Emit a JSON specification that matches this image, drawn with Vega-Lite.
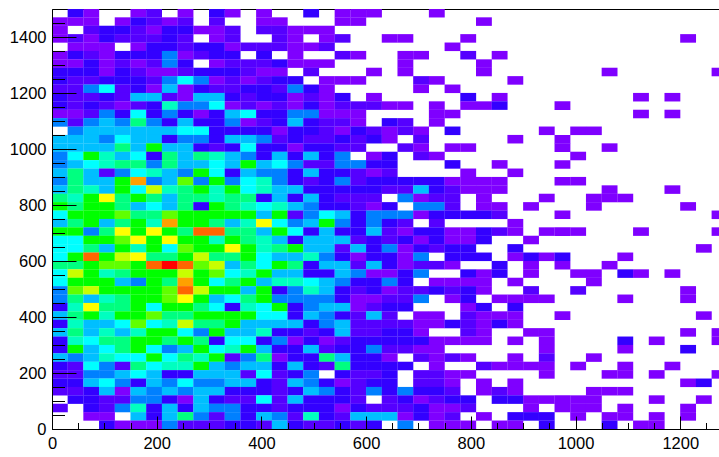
{"$schema":"https://vega.github.io/schema/vega-lite/v6.json","width":667,"height":420,"autosize":"none","padding":{"left":52,"top":9,"right":0,"bottom":28},"background":"white","config":{"view":{"stroke":"black","strokeWidth":1},"axis":{"grid":false,"domainColor":"black","tickColor":"black","tickWidth":1,"labelColor":"black","labelFont":"Liberation Sans","labelFontSize":16.5,"title":null,"labelOverlap":false,"labelBound":false,"labelFlush":false,"format":"d"}},"data":{"values":[
{"x":45,"y":1485,"v":3},{"x":75,"y":1485,"v":1},{"x":165,"y":1485,"v":1},{"x":195,"y":1485,"v":2},{"x":255,"y":1485,"v":1},{"x":315,"y":1485,"v":3},{"x":345,"y":1485,"v":1},{"x":405,"y":1485,"v":1},{"x":495,"y":1485,"v":3},{"x":555,"y":1485,"v":1},{"x":585,"y":1485,"v":1},{"x":615,"y":1485,"v":1},{"x":735,"y":1485,"v":1},
{"x":15,"y":1455,"v":1},{"x":45,"y":1455,"v":1},{"x":75,"y":1455,"v":1},{"x":135,"y":1455,"v":1},{"x":165,"y":1455,"v":3},{"x":195,"y":1455,"v":2},{"x":225,"y":1455,"v":1},{"x":255,"y":1455,"v":2},{"x":315,"y":1455,"v":2},{"x":405,"y":1455,"v":1},{"x":435,"y":1455,"v":1},{"x":555,"y":1455,"v":1},{"x":585,"y":1455,"v":1},{"x":825,"y":1455,"v":1},
{"x":15,"y":1425,"v":1},{"x":75,"y":1425,"v":2},{"x":105,"y":1425,"v":3},{"x":135,"y":1425,"v":3},{"x":165,"y":1425,"v":2},{"x":195,"y":1425,"v":1},{"x":225,"y":1425,"v":3},{"x":255,"y":1425,"v":3},{"x":285,"y":1425,"v":1},{"x":315,"y":1425,"v":1},{"x":345,"y":1425,"v":2},{"x":405,"y":1425,"v":2},{"x":435,"y":1425,"v":2},{"x":465,"y":1425,"v":1},{"x":495,"y":1425,"v":1},{"x":525,"y":1425,"v":1},
{"x":15,"y":1395,"v":1},{"x":45,"y":1395,"v":2},{"x":75,"y":1395,"v":1},{"x":105,"y":1395,"v":3},{"x":135,"y":1395,"v":2},{"x":165,"y":1395,"v":2},{"x":195,"y":1395,"v":2},{"x":225,"y":1395,"v":3},{"x":255,"y":1395,"v":2},{"x":315,"y":1395,"v":1},{"x":345,"y":1395,"v":2},{"x":435,"y":1395,"v":2},{"x":465,"y":1395,"v":1},{"x":525,"y":1395,"v":1},{"x":555,"y":1395,"v":2},{"x":645,"y":1395,"v":1},{"x":675,"y":1395,"v":1},{"x":795,"y":1395,"v":1},{"x":1215,"y":1395,"v":1},
{"x":45,"y":1365,"v":1},{"x":75,"y":1365,"v":1},{"x":105,"y":1365,"v":1},{"x":165,"y":1365,"v":1},{"x":195,"y":1365,"v":3},{"x":225,"y":1365,"v":3},{"x":255,"y":1365,"v":2},{"x":285,"y":1365,"v":3},{"x":315,"y":1365,"v":3},{"x":345,"y":1365,"v":1},{"x":375,"y":1365,"v":2},{"x":405,"y":1365,"v":2},{"x":435,"y":1365,"v":2},{"x":465,"y":1365,"v":1},{"x":495,"y":1365,"v":1},{"x":525,"y":1365,"v":2},{"x":765,"y":1365,"v":1},
{"x":15,"y":1335,"v":1},{"x":45,"y":1335,"v":3},{"x":75,"y":1335,"v":2},{"x":105,"y":1335,"v":1},{"x":135,"y":1335,"v":3},{"x":165,"y":1335,"v":3},{"x":195,"y":1335,"v":3},{"x":225,"y":1335,"v":5},{"x":255,"y":1335,"v":1},{"x":285,"y":1335,"v":2},{"x":315,"y":1335,"v":3},{"x":345,"y":1335,"v":3},{"x":405,"y":1335,"v":3},{"x":465,"y":1335,"v":1},{"x":555,"y":1335,"v":2},{"x":585,"y":1335,"v":1},{"x":675,"y":1335,"v":1},{"x":705,"y":1335,"v":1},{"x":795,"y":1335,"v":2},{"x":855,"y":1335,"v":1},
{"x":15,"y":1305,"v":1},{"x":45,"y":1305,"v":1},{"x":75,"y":1305,"v":3},{"x":105,"y":1305,"v":1},{"x":135,"y":1305,"v":2},{"x":165,"y":1305,"v":1},{"x":195,"y":1305,"v":2},{"x":225,"y":1305,"v":5},{"x":255,"y":1305,"v":3},{"x":315,"y":1305,"v":1},{"x":345,"y":1305,"v":2},{"x":375,"y":1305,"v":2},{"x":405,"y":1305,"v":2},{"x":435,"y":1305,"v":3},{"x":465,"y":1305,"v":1},{"x":495,"y":1305,"v":1},{"x":525,"y":1305,"v":1},{"x":675,"y":1305,"v":1},{"x":825,"y":1305,"v":1},
{"x":15,"y":1275,"v":3},{"x":45,"y":1275,"v":3},{"x":75,"y":1275,"v":3},{"x":105,"y":1275,"v":1},{"x":135,"y":1275,"v":3},{"x":165,"y":1275,"v":2},{"x":195,"y":1275,"v":1},{"x":225,"y":1275,"v":1},{"x":255,"y":1275,"v":2},{"x":285,"y":1275,"v":3},{"x":315,"y":1275,"v":3},{"x":345,"y":1275,"v":3},{"x":375,"y":1275,"v":2},{"x":405,"y":1275,"v":1},{"x":435,"y":1275,"v":1},{"x":495,"y":1275,"v":2},{"x":615,"y":1275,"v":1},{"x":675,"y":1275,"v":1},{"x":825,"y":1275,"v":1},{"x":1065,"y":1275,"v":1},{"x":1275,"y":1275,"v":1},
{"x":15,"y":1245,"v":3},{"x":45,"y":1245,"v":2},{"x":75,"y":1245,"v":2},{"x":105,"y":1245,"v":3},{"x":135,"y":1245,"v":3},{"x":165,"y":1245,"v":3},{"x":195,"y":1245,"v":2},{"x":225,"y":1245,"v":5},{"x":255,"y":1245,"v":7},{"x":285,"y":1245,"v":5},{"x":315,"y":1245,"v":1},{"x":345,"y":1245,"v":2},{"x":375,"y":1245,"v":1},{"x":405,"y":1245,"v":2},{"x":435,"y":1245,"v":3},{"x":465,"y":1245,"v":3},{"x":525,"y":1245,"v":1},{"x":555,"y":1245,"v":1},{"x":585,"y":1245,"v":1},{"x":705,"y":1245,"v":2},{"x":735,"y":1245,"v":1},{"x":885,"y":1245,"v":1},
{"x":15,"y":1215,"v":2},{"x":45,"y":1215,"v":2},{"x":75,"y":1215,"v":5},{"x":105,"y":1215,"v":7},{"x":135,"y":1215,"v":2},{"x":165,"y":1215,"v":3},{"x":195,"y":1215,"v":1},{"x":225,"y":1215,"v":6},{"x":255,"y":1215,"v":1},{"x":285,"y":1215,"v":3},{"x":315,"y":1215,"v":2},{"x":345,"y":1215,"v":2},{"x":375,"y":1215,"v":3},{"x":405,"y":1215,"v":3},{"x":435,"y":1215,"v":2},{"x":465,"y":1215,"v":5},{"x":495,"y":1215,"v":3},{"x":525,"y":1215,"v":1},{"x":705,"y":1215,"v":1},{"x":765,"y":1215,"v":1},
{"x":15,"y":1185,"v":3},{"x":45,"y":1185,"v":2},{"x":75,"y":1185,"v":2},{"x":105,"y":1185,"v":3},{"x":135,"y":1185,"v":2},{"x":165,"y":1185,"v":6},{"x":195,"y":1185,"v":6},{"x":225,"y":1185,"v":2},{"x":255,"y":1185,"v":1},{"x":285,"y":1185,"v":6},{"x":315,"y":1185,"v":6},{"x":345,"y":1185,"v":3},{"x":375,"y":1185,"v":2},{"x":405,"y":1185,"v":3},{"x":435,"y":1185,"v":3},{"x":465,"y":1185,"v":1},{"x":495,"y":1185,"v":2},{"x":525,"y":1185,"v":1},{"x":555,"y":1185,"v":3},{"x":615,"y":1185,"v":1},{"x":795,"y":1185,"v":3},{"x":855,"y":1185,"v":1},{"x":1125,"y":1185,"v":1},{"x":1185,"y":1185,"v":1},
{"x":15,"y":1155,"v":3},{"x":45,"y":1155,"v":2},{"x":75,"y":1155,"v":3},{"x":105,"y":1155,"v":2},{"x":135,"y":1155,"v":1},{"x":165,"y":1155,"v":2},{"x":195,"y":1155,"v":3},{"x":225,"y":1155,"v":8},{"x":255,"y":1155,"v":5},{"x":285,"y":1155,"v":5},{"x":315,"y":1155,"v":7},{"x":345,"y":1155,"v":1},{"x":375,"y":1155,"v":2},{"x":405,"y":1155,"v":1},{"x":435,"y":1155,"v":2},{"x":465,"y":1155,"v":1},{"x":495,"y":1155,"v":3},{"x":525,"y":1155,"v":1},{"x":555,"y":1155,"v":2},{"x":585,"y":1155,"v":2},{"x":615,"y":1155,"v":2},{"x":645,"y":1155,"v":1},{"x":675,"y":1155,"v":1},{"x":735,"y":1155,"v":1},{"x":795,"y":1155,"v":1},{"x":825,"y":1155,"v":1},{"x":855,"y":1155,"v":3},{"x":975,"y":1155,"v":1},
{"x":15,"y":1125,"v":1},{"x":45,"y":1125,"v":1},{"x":75,"y":1125,"v":2},{"x":105,"y":1125,"v":5},{"x":135,"y":1125,"v":3},{"x":165,"y":1125,"v":7},{"x":195,"y":1125,"v":3},{"x":225,"y":1125,"v":5},{"x":255,"y":1125,"v":3},{"x":285,"y":1125,"v":1},{"x":315,"y":1125,"v":3},{"x":345,"y":1125,"v":6},{"x":375,"y":1125,"v":7},{"x":405,"y":1125,"v":3},{"x":435,"y":1125,"v":3},{"x":465,"y":1125,"v":5},{"x":495,"y":1125,"v":5},{"x":525,"y":1125,"v":1},{"x":555,"y":1125,"v":1},{"x":585,"y":1125,"v":1},{"x":735,"y":1125,"v":1},{"x":765,"y":1125,"v":1},{"x":1125,"y":1125,"v":1},{"x":1185,"y":1125,"v":1},
{"x":15,"y":1095,"v":5},{"x":45,"y":1095,"v":2},{"x":75,"y":1095,"v":5},{"x":105,"y":1095,"v":6},{"x":135,"y":1095,"v":5},{"x":165,"y":1095,"v":9},{"x":195,"y":1095,"v":5},{"x":225,"y":1095,"v":3},{"x":255,"y":1095,"v":6},{"x":285,"y":1095,"v":3},{"x":315,"y":1095,"v":3},{"x":345,"y":1095,"v":5},{"x":375,"y":1095,"v":1},{"x":405,"y":1095,"v":2},{"x":435,"y":1095,"v":3},{"x":465,"y":1095,"v":6},{"x":495,"y":1095,"v":3},{"x":525,"y":1095,"v":2},{"x":555,"y":1095,"v":2},{"x":585,"y":1095,"v":1},{"x":645,"y":1095,"v":3},{"x":675,"y":1095,"v":2},{"x":735,"y":1095,"v":1},
{"x":45,"y":1065,"v":5},{"x":75,"y":1065,"v":6},{"x":105,"y":1065,"v":6},{"x":135,"y":1065,"v":6},{"x":165,"y":1065,"v":6},{"x":195,"y":1065,"v":6},{"x":225,"y":1065,"v":6},{"x":255,"y":1065,"v":7},{"x":285,"y":1065,"v":7},{"x":315,"y":1065,"v":3},{"x":345,"y":1065,"v":3},{"x":375,"y":1065,"v":3},{"x":405,"y":1065,"v":3},{"x":435,"y":1065,"v":1},{"x":465,"y":1065,"v":3},{"x":495,"y":1065,"v":3},{"x":525,"y":1065,"v":2},{"x":555,"y":1065,"v":1},{"x":585,"y":1065,"v":3},{"x":615,"y":1065,"v":2},{"x":645,"y":1065,"v":1},{"x":675,"y":1065,"v":2},{"x":705,"y":1065,"v":1},{"x":765,"y":1065,"v":3},{"x":945,"y":1065,"v":1},{"x":1005,"y":1065,"v":1},{"x":1035,"y":1065,"v":1},
{"x":15,"y":1035,"v":6},{"x":45,"y":1035,"v":6},{"x":75,"y":1035,"v":6},{"x":105,"y":1035,"v":5},{"x":135,"y":1035,"v":7},{"x":165,"y":1035,"v":6},{"x":195,"y":1035,"v":6},{"x":225,"y":1035,"v":3},{"x":255,"y":1035,"v":5},{"x":285,"y":1035,"v":5},{"x":315,"y":1035,"v":3},{"x":345,"y":1035,"v":6},{"x":375,"y":1035,"v":6},{"x":405,"y":1035,"v":5},{"x":435,"y":1035,"v":2},{"x":465,"y":1035,"v":3},{"x":495,"y":1035,"v":2},{"x":525,"y":1035,"v":2},{"x":555,"y":1035,"v":3},{"x":585,"y":1035,"v":2},{"x":615,"y":1035,"v":3},{"x":645,"y":1035,"v":1},{"x":705,"y":1035,"v":2},{"x":885,"y":1035,"v":1},{"x":975,"y":1035,"v":1},
{"x":15,"y":1005,"v":6},{"x":45,"y":1005,"v":6},{"x":75,"y":1005,"v":6},{"x":105,"y":1005,"v":6},{"x":135,"y":1005,"v":9},{"x":165,"y":1005,"v":6},{"x":195,"y":1005,"v":10},{"x":225,"y":1005,"v":6},{"x":255,"y":1005,"v":6},{"x":285,"y":1005,"v":3},{"x":315,"y":1005,"v":2},{"x":345,"y":1005,"v":3},{"x":375,"y":1005,"v":7},{"x":405,"y":1005,"v":3},{"x":435,"y":1005,"v":3},{"x":465,"y":1005,"v":1},{"x":495,"y":1005,"v":3},{"x":525,"y":1005,"v":3},{"x":555,"y":1005,"v":2},{"x":585,"y":1005,"v":2},{"x":675,"y":1005,"v":2},{"x":705,"y":1005,"v":1},{"x":765,"y":1005,"v":1},{"x":795,"y":1005,"v":1},{"x":975,"y":1005,"v":1},{"x":1065,"y":1005,"v":1},
{"x":15,"y":975,"v":5},{"x":45,"y":975,"v":7},{"x":75,"y":975,"v":10},{"x":105,"y":975,"v":8},{"x":135,"y":975,"v":6},{"x":165,"y":975,"v":7},{"x":195,"y":975,"v":3},{"x":225,"y":975,"v":9},{"x":255,"y":975,"v":6},{"x":285,"y":975,"v":9},{"x":315,"y":975,"v":8},{"x":345,"y":975,"v":6},{"x":375,"y":975,"v":5},{"x":405,"y":975,"v":3},{"x":435,"y":975,"v":6},{"x":465,"y":975,"v":3},{"x":495,"y":975,"v":6},{"x":525,"y":975,"v":3},{"x":555,"y":975,"v":5},{"x":615,"y":975,"v":1},{"x":645,"y":975,"v":3},{"x":705,"y":975,"v":2},{"x":735,"y":975,"v":1},{"x":1005,"y":975,"v":1},
{"x":15,"y":945,"v":5},{"x":45,"y":945,"v":6},{"x":75,"y":945,"v":7},{"x":105,"y":945,"v":8},{"x":135,"y":945,"v":9},{"x":165,"y":945,"v":9},{"x":195,"y":945,"v":5},{"x":225,"y":945,"v":9},{"x":255,"y":945,"v":6},{"x":285,"y":945,"v":6},{"x":315,"y":945,"v":7},{"x":345,"y":945,"v":6},{"x":375,"y":945,"v":10},{"x":405,"y":945,"v":6},{"x":435,"y":945,"v":7},{"x":465,"y":945,"v":5},{"x":495,"y":945,"v":2},{"x":525,"y":945,"v":2},{"x":555,"y":945,"v":5},{"x":585,"y":945,"v":5},{"x":615,"y":945,"v":3},{"x":645,"y":945,"v":3},{"x":765,"y":945,"v":3},{"x":855,"y":945,"v":1},{"x":975,"y":945,"v":1},
{"x":15,"y":915,"v":6},{"x":45,"y":915,"v":9},{"x":75,"y":915,"v":6},{"x":105,"y":915,"v":2},{"x":135,"y":915,"v":5},{"x":165,"y":915,"v":7},{"x":195,"y":915,"v":8},{"x":225,"y":915,"v":6},{"x":255,"y":915,"v":5},{"x":285,"y":915,"v":10},{"x":315,"y":915,"v":7},{"x":345,"y":915,"v":3},{"x":375,"y":915,"v":6},{"x":405,"y":915,"v":5},{"x":435,"y":915,"v":5},{"x":465,"y":915,"v":3},{"x":495,"y":915,"v":6},{"x":525,"y":915,"v":3},{"x":555,"y":915,"v":3},{"x":585,"y":915,"v":2},{"x":615,"y":915,"v":1},{"x":645,"y":915,"v":2},{"x":795,"y":915,"v":1},{"x":885,"y":915,"v":1},
{"x":15,"y":885,"v":5},{"x":45,"y":885,"v":9},{"x":75,"y":885,"v":6},{"x":105,"y":885,"v":6},{"x":135,"y":885,"v":10},{"x":165,"y":885,"v":14},{"x":195,"y":885,"v":5},{"x":225,"y":885,"v":6},{"x":255,"y":885,"v":11},{"x":285,"y":885,"v":5},{"x":315,"y":885,"v":10},{"x":345,"y":885,"v":5},{"x":375,"y":885,"v":7},{"x":405,"y":885,"v":8},{"x":435,"y":885,"v":5},{"x":465,"y":885,"v":3},{"x":495,"y":885,"v":2},{"x":525,"y":885,"v":3},{"x":555,"y":885,"v":5},{"x":585,"y":885,"v":2},{"x":615,"y":885,"v":3},{"x":645,"y":885,"v":3},{"x":675,"y":885,"v":3},{"x":705,"y":885,"v":3},{"x":735,"y":885,"v":3},{"x":765,"y":885,"v":1},{"x":795,"y":885,"v":1},{"x":825,"y":885,"v":1},{"x":855,"y":885,"v":1},{"x":975,"y":885,"v":1},{"x":1005,"y":885,"v":1},
{"x":15,"y":855,"v":6},{"x":45,"y":855,"v":9},{"x":75,"y":855,"v":8},{"x":105,"y":855,"v":6},{"x":135,"y":855,"v":10},{"x":165,"y":855,"v":7},{"x":195,"y":855,"v":12},{"x":225,"y":855,"v":8},{"x":255,"y":855,"v":9},{"x":285,"y":855,"v":10},{"x":315,"y":855,"v":8},{"x":345,"y":855,"v":10},{"x":375,"y":855,"v":7},{"x":405,"y":855,"v":8},{"x":435,"y":855,"v":6},{"x":465,"y":855,"v":6},{"x":495,"y":855,"v":3},{"x":525,"y":855,"v":3},{"x":555,"y":855,"v":3},{"x":585,"y":855,"v":3},{"x":615,"y":855,"v":3},{"x":645,"y":855,"v":2},{"x":675,"y":855,"v":2},{"x":705,"y":855,"v":6},{"x":735,"y":855,"v":3},{"x":765,"y":855,"v":2},{"x":795,"y":855,"v":1},{"x":825,"y":855,"v":1},{"x":855,"y":855,"v":1},{"x":1065,"y":855,"v":1},{"x":1185,"y":855,"v":1},
{"x":15,"y":825,"v":9},{"x":45,"y":825,"v":8},{"x":75,"y":825,"v":10},{"x":105,"y":825,"v":13},{"x":135,"y":825,"v":9},{"x":165,"y":825,"v":10},{"x":195,"y":825,"v":9},{"x":225,"y":825,"v":6},{"x":255,"y":825,"v":9},{"x":285,"y":825,"v":9},{"x":315,"y":825,"v":8},{"x":345,"y":825,"v":9},{"x":375,"y":825,"v":9},{"x":405,"y":825,"v":3},{"x":435,"y":825,"v":6},{"x":465,"y":825,"v":3},{"x":495,"y":825,"v":6},{"x":525,"y":825,"v":3},{"x":555,"y":825,"v":2},{"x":585,"y":825,"v":2},{"x":615,"y":825,"v":2},{"x":675,"y":825,"v":5},{"x":705,"y":825,"v":1},{"x":735,"y":825,"v":2},{"x":765,"y":825,"v":2},{"x":825,"y":825,"v":1},{"x":945,"y":825,"v":1},{"x":1035,"y":825,"v":1},{"x":1065,"y":825,"v":1},{"x":1095,"y":825,"v":1},
{"x":15,"y":795,"v":10},{"x":45,"y":795,"v":9},{"x":75,"y":795,"v":10},{"x":105,"y":795,"v":10},{"x":135,"y":795,"v":9},{"x":165,"y":795,"v":6},{"x":195,"y":795,"v":7},{"x":225,"y":795,"v":6},{"x":255,"y":795,"v":9},{"x":285,"y":795,"v":3},{"x":315,"y":795,"v":10},{"x":345,"y":795,"v":9},{"x":375,"y":795,"v":8},{"x":405,"y":795,"v":7},{"x":435,"y":795,"v":8},{"x":465,"y":795,"v":6},{"x":495,"y":795,"v":5},{"x":525,"y":795,"v":3},{"x":555,"y":795,"v":3},{"x":585,"y":795,"v":2},{"x":615,"y":795,"v":1},{"x":645,"y":795,"v":3},{"x":705,"y":795,"v":5},{"x":735,"y":795,"v":5},{"x":765,"y":795,"v":2},{"x":825,"y":795,"v":1},{"x":855,"y":795,"v":1},{"x":915,"y":795,"v":1},{"x":1035,"y":795,"v":1},{"x":1215,"y":795,"v":1},
{"x":15,"y":765,"v":7},{"x":45,"y":765,"v":10},{"x":75,"y":765,"v":10},{"x":105,"y":765,"v":10},{"x":135,"y":765,"v":11},{"x":165,"y":765,"v":9},{"x":195,"y":765,"v":9},{"x":225,"y":765,"v":11},{"x":255,"y":765,"v":10},{"x":285,"y":765,"v":10},{"x":315,"y":765,"v":10},{"x":345,"y":765,"v":10},{"x":375,"y":765,"v":10},{"x":405,"y":765,"v":6},{"x":435,"y":765,"v":10},{"x":465,"y":765,"v":2},{"x":495,"y":765,"v":5},{"x":525,"y":765,"v":7},{"x":555,"y":765,"v":6},{"x":585,"y":765,"v":3},{"x":615,"y":765,"v":5},{"x":645,"y":765,"v":5},{"x":675,"y":765,"v":5},{"x":705,"y":765,"v":1},{"x":735,"y":765,"v":3},{"x":765,"y":765,"v":3},{"x":795,"y":765,"v":3},{"x":825,"y":765,"v":3},{"x":855,"y":765,"v":2},{"x":975,"y":765,"v":1},{"x":1275,"y":765,"v":1},
{"x":15,"y":735,"v":6},{"x":45,"y":735,"v":9},{"x":75,"y":735,"v":10},{"x":105,"y":735,"v":6},{"x":135,"y":735,"v":9},{"x":165,"y":735,"v":10},{"x":195,"y":735,"v":8},{"x":225,"y":735,"v":14},{"x":255,"y":735,"v":10},{"x":285,"y":735,"v":10},{"x":315,"y":735,"v":9},{"x":345,"y":735,"v":6},{"x":375,"y":735,"v":8},{"x":405,"y":735,"v":13},{"x":435,"y":735,"v":7},{"x":465,"y":735,"v":5},{"x":495,"y":735,"v":6},{"x":525,"y":735,"v":10},{"x":555,"y":735,"v":5},{"x":585,"y":735,"v":3},{"x":615,"y":735,"v":5},{"x":645,"y":735,"v":3},{"x":675,"y":735,"v":2},{"x":735,"y":735,"v":2},{"x":885,"y":735,"v":1},
{"x":15,"y":705,"v":10},{"x":45,"y":705,"v":10},{"x":75,"y":705,"v":5},{"x":105,"y":705,"v":9},{"x":135,"y":705,"v":13},{"x":165,"y":705,"v":10},{"x":195,"y":705,"v":13},{"x":225,"y":705,"v":10},{"x":255,"y":705,"v":9},{"x":285,"y":705,"v":15},{"x":315,"y":705,"v":15},{"x":345,"y":705,"v":9},{"x":375,"y":705,"v":9},{"x":405,"y":705,"v":6},{"x":435,"y":705,"v":10},{"x":465,"y":705,"v":7},{"x":495,"y":705,"v":3},{"x":525,"y":705,"v":6},{"x":555,"y":705,"v":3},{"x":585,"y":705,"v":3},{"x":615,"y":705,"v":6},{"x":645,"y":705,"v":2},{"x":675,"y":705,"v":1},{"x":705,"y":705,"v":3},{"x":735,"y":705,"v":3},{"x":765,"y":705,"v":1},{"x":795,"y":705,"v":1},{"x":825,"y":705,"v":3},{"x":855,"y":705,"v":2},{"x":885,"y":705,"v":1},{"x":945,"y":705,"v":1},{"x":975,"y":705,"v":1},{"x":1005,"y":705,"v":1},{"x":1125,"y":705,"v":1},{"x":1275,"y":705,"v":1},
{"x":15,"y":675,"v":7},{"x":45,"y":675,"v":7},{"x":75,"y":675,"v":10},{"x":105,"y":675,"v":10},{"x":135,"y":675,"v":11},{"x":165,"y":675,"v":13},{"x":195,"y":675,"v":10},{"x":225,"y":675,"v":13},{"x":255,"y":675,"v":10},{"x":285,"y":675,"v":10},{"x":315,"y":675,"v":8},{"x":345,"y":675,"v":10},{"x":375,"y":675,"v":9},{"x":405,"y":675,"v":8},{"x":435,"y":675,"v":6},{"x":465,"y":675,"v":3},{"x":495,"y":675,"v":6},{"x":525,"y":675,"v":6},{"x":555,"y":675,"v":6},{"x":585,"y":675,"v":2},{"x":615,"y":675,"v":3},{"x":645,"y":675,"v":2},{"x":675,"y":675,"v":3},{"x":705,"y":675,"v":1},{"x":735,"y":675,"v":3},{"x":765,"y":675,"v":1},{"x":795,"y":675,"v":1},{"x":825,"y":675,"v":3},{"x":915,"y":675,"v":1},
{"x":15,"y":645,"v":7},{"x":45,"y":645,"v":7},{"x":75,"y":645,"v":9},{"x":105,"y":645,"v":6},{"x":135,"y":645,"v":10},{"x":165,"y":645,"v":8},{"x":195,"y":645,"v":10},{"x":225,"y":645,"v":7},{"x":255,"y":645,"v":11},{"x":285,"y":645,"v":10},{"x":315,"y":645,"v":10},{"x":345,"y":645,"v":13},{"x":375,"y":645,"v":10},{"x":405,"y":645,"v":8},{"x":435,"y":645,"v":9},{"x":465,"y":645,"v":10},{"x":495,"y":645,"v":6},{"x":525,"y":645,"v":6},{"x":555,"y":645,"v":2},{"x":585,"y":645,"v":6},{"x":615,"y":645,"v":3},{"x":645,"y":645,"v":5},{"x":675,"y":645,"v":1},{"x":705,"y":645,"v":3},{"x":735,"y":645,"v":2},{"x":765,"y":645,"v":3},{"x":795,"y":645,"v":3},{"x":885,"y":645,"v":3},{"x":1245,"y":645,"v":1},
{"x":15,"y":615,"v":7},{"x":45,"y":615,"v":10},{"x":75,"y":615,"v":15},{"x":105,"y":615,"v":10},{"x":135,"y":615,"v":12},{"x":165,"y":615,"v":13},{"x":195,"y":615,"v":9},{"x":225,"y":615,"v":9},{"x":255,"y":615,"v":10},{"x":285,"y":615,"v":12},{"x":315,"y":615,"v":9},{"x":345,"y":615,"v":9},{"x":375,"y":615,"v":10},{"x":405,"y":615,"v":7},{"x":435,"y":615,"v":6},{"x":465,"y":615,"v":6},{"x":495,"y":615,"v":8},{"x":525,"y":615,"v":5},{"x":555,"y":615,"v":3},{"x":585,"y":615,"v":1},{"x":615,"y":615,"v":3},{"x":645,"y":615,"v":3},{"x":675,"y":615,"v":1},{"x":705,"y":615,"v":5},{"x":765,"y":615,"v":3},{"x":795,"y":615,"v":3},{"x":825,"y":615,"v":3},{"x":885,"y":615,"v":1},{"x":915,"y":615,"v":3},{"x":945,"y":615,"v":1},{"x":975,"y":615,"v":3},{"x":1095,"y":615,"v":1},
{"x":15,"y":585,"v":9},{"x":45,"y":585,"v":9},{"x":75,"y":585,"v":10},{"x":105,"y":585,"v":11},{"x":135,"y":585,"v":11},{"x":165,"y":585,"v":10},{"x":195,"y":585,"v":15},{"x":225,"y":585,"v":16},{"x":255,"y":585,"v":15},{"x":285,"y":585,"v":11},{"x":315,"y":585,"v":12},{"x":345,"y":585,"v":6},{"x":375,"y":585,"v":9},{"x":405,"y":585,"v":7},{"x":435,"y":585,"v":10},{"x":465,"y":585,"v":9},{"x":495,"y":585,"v":3},{"x":525,"y":585,"v":6},{"x":555,"y":585,"v":6},{"x":585,"y":585,"v":2},{"x":615,"y":585,"v":6},{"x":645,"y":585,"v":3},{"x":675,"y":585,"v":1},{"x":705,"y":585,"v":2},{"x":735,"y":585,"v":2},{"x":765,"y":585,"v":1},{"x":855,"y":585,"v":3},{"x":915,"y":585,"v":1},{"x":975,"y":585,"v":1},{"x":1065,"y":585,"v":1},
{"x":15,"y":555,"v":7},{"x":45,"y":555,"v":12},{"x":75,"y":555,"v":10},{"x":105,"y":555,"v":8},{"x":135,"y":555,"v":9},{"x":165,"y":555,"v":10},{"x":195,"y":555,"v":10},{"x":225,"y":555,"v":10},{"x":255,"y":555,"v":12},{"x":285,"y":555,"v":10},{"x":315,"y":555,"v":11},{"x":345,"y":555,"v":7},{"x":375,"y":555,"v":8},{"x":405,"y":555,"v":10},{"x":435,"y":555,"v":6},{"x":465,"y":555,"v":6},{"x":495,"y":555,"v":3},{"x":525,"y":555,"v":3},{"x":555,"y":555,"v":6},{"x":585,"y":555,"v":5},{"x":615,"y":555,"v":1},{"x":645,"y":555,"v":1},{"x":675,"y":555,"v":3},{"x":705,"y":555,"v":5},{"x":795,"y":555,"v":3},{"x":825,"y":555,"v":1},{"x":855,"y":555,"v":3},{"x":915,"y":555,"v":1},{"x":1005,"y":555,"v":1},{"x":1035,"y":555,"v":1},{"x":1095,"y":555,"v":3},{"x":1125,"y":555,"v":1},{"x":1185,"y":555,"v":1},
{"x":15,"y":525,"v":7},{"x":45,"y":525,"v":10},{"x":75,"y":525,"v":10},{"x":105,"y":525,"v":10},{"x":135,"y":525,"v":6},{"x":165,"y":525,"v":5},{"x":195,"y":525,"v":10},{"x":225,"y":525,"v":9},{"x":255,"y":525,"v":14},{"x":285,"y":525,"v":10},{"x":315,"y":525,"v":7},{"x":345,"y":525,"v":9},{"x":375,"y":525,"v":10},{"x":405,"y":525,"v":6},{"x":435,"y":525,"v":8},{"x":465,"y":525,"v":8},{"x":495,"y":525,"v":7},{"x":525,"y":525,"v":6},{"x":555,"y":525,"v":5},{"x":585,"y":525,"v":3},{"x":615,"y":525,"v":3},{"x":645,"y":525,"v":5},{"x":675,"y":525,"v":3},{"x":735,"y":525,"v":1},{"x":765,"y":525,"v":1},{"x":795,"y":525,"v":1},{"x":825,"y":525,"v":1},{"x":885,"y":525,"v":1},{"x":1035,"y":525,"v":1},
{"x":15,"y":495,"v":5},{"x":45,"y":495,"v":11},{"x":75,"y":495,"v":12},{"x":105,"y":495,"v":10},{"x":135,"y":495,"v":10},{"x":165,"y":495,"v":10},{"x":195,"y":495,"v":10},{"x":225,"y":495,"v":11},{"x":255,"y":495,"v":15},{"x":285,"y":495,"v":12},{"x":315,"y":495,"v":10},{"x":345,"y":495,"v":10},{"x":375,"y":495,"v":6},{"x":405,"y":495,"v":10},{"x":435,"y":495,"v":3},{"x":465,"y":495,"v":5},{"x":495,"y":495,"v":8},{"x":525,"y":495,"v":6},{"x":555,"y":495,"v":3},{"x":585,"y":495,"v":2},{"x":615,"y":495,"v":3},{"x":645,"y":495,"v":1},{"x":675,"y":495,"v":2},{"x":705,"y":495,"v":2},{"x":735,"y":495,"v":3},{"x":765,"y":495,"v":2},{"x":795,"y":495,"v":3},{"x":825,"y":495,"v":1},{"x":915,"y":495,"v":2},{"x":1005,"y":495,"v":2},{"x":1215,"y":495,"v":1},
{"x":15,"y":465,"v":5},{"x":45,"y":465,"v":9},{"x":75,"y":465,"v":6},{"x":105,"y":465,"v":8},{"x":135,"y":465,"v":9},{"x":165,"y":465,"v":10},{"x":195,"y":465,"v":10},{"x":225,"y":465,"v":11},{"x":255,"y":465,"v":13},{"x":285,"y":465,"v":10},{"x":315,"y":465,"v":6},{"x":345,"y":465,"v":7},{"x":375,"y":465,"v":9},{"x":405,"y":465,"v":10},{"x":435,"y":465,"v":5},{"x":465,"y":465,"v":5},{"x":495,"y":465,"v":5},{"x":525,"y":465,"v":5},{"x":555,"y":465,"v":3},{"x":585,"y":465,"v":1},{"x":615,"y":465,"v":1},{"x":645,"y":465,"v":2},{"x":675,"y":465,"v":2},{"x":705,"y":465,"v":5},{"x":765,"y":465,"v":1},{"x":795,"y":465,"v":3},{"x":855,"y":465,"v":1},{"x":885,"y":465,"v":1},{"x":915,"y":465,"v":1},{"x":945,"y":465,"v":1},{"x":1095,"y":465,"v":1},{"x":1215,"y":465,"v":1},
{"x":15,"y":435,"v":3},{"x":45,"y":435,"v":8},{"x":75,"y":435,"v":13},{"x":105,"y":435,"v":9},{"x":135,"y":435,"v":9},{"x":165,"y":435,"v":10},{"x":195,"y":435,"v":7},{"x":225,"y":435,"v":10},{"x":255,"y":435,"v":10},{"x":285,"y":435,"v":9},{"x":315,"y":435,"v":7},{"x":345,"y":435,"v":3},{"x":375,"y":435,"v":8},{"x":405,"y":435,"v":7},{"x":435,"y":435,"v":10},{"x":465,"y":435,"v":3},{"x":495,"y":435,"v":5},{"x":525,"y":435,"v":6},{"x":555,"y":435,"v":6},{"x":585,"y":435,"v":1},{"x":615,"y":435,"v":2},{"x":645,"y":435,"v":3},{"x":675,"y":435,"v":3},{"x":795,"y":435,"v":1},{"x":825,"y":435,"v":3},{"x":885,"y":435,"v":3},
{"x":15,"y":405,"v":6},{"x":45,"y":405,"v":9},{"x":75,"y":405,"v":10},{"x":105,"y":405,"v":8},{"x":135,"y":405,"v":10},{"x":165,"y":405,"v":10},{"x":195,"y":405,"v":11},{"x":225,"y":405,"v":9},{"x":255,"y":405,"v":9},{"x":285,"y":405,"v":10},{"x":315,"y":405,"v":10},{"x":345,"y":405,"v":10},{"x":375,"y":405,"v":10},{"x":405,"y":405,"v":7},{"x":435,"y":405,"v":7},{"x":465,"y":405,"v":3},{"x":495,"y":405,"v":6},{"x":525,"y":405,"v":5},{"x":555,"y":405,"v":3},{"x":585,"y":405,"v":2},{"x":615,"y":405,"v":6},{"x":645,"y":405,"v":2},{"x":705,"y":405,"v":1},{"x":735,"y":405,"v":1},{"x":795,"y":405,"v":2},{"x":825,"y":405,"v":1},{"x":855,"y":405,"v":1},{"x":885,"y":405,"v":1},{"x":975,"y":405,"v":1},{"x":1245,"y":405,"v":1},
{"x":15,"y":375,"v":3},{"x":45,"y":375,"v":8},{"x":75,"y":375,"v":6},{"x":105,"y":375,"v":6},{"x":135,"y":375,"v":7},{"x":165,"y":375,"v":11},{"x":195,"y":375,"v":7},{"x":225,"y":375,"v":8},{"x":255,"y":375,"v":12},{"x":285,"y":375,"v":9},{"x":315,"y":375,"v":9},{"x":345,"y":375,"v":10},{"x":375,"y":375,"v":6},{"x":405,"y":375,"v":6},{"x":435,"y":375,"v":6},{"x":465,"y":375,"v":6},{"x":495,"y":375,"v":3},{"x":525,"y":375,"v":5},{"x":555,"y":375,"v":6},{"x":585,"y":375,"v":2},{"x":615,"y":375,"v":2},{"x":645,"y":375,"v":2},{"x":675,"y":375,"v":2},{"x":705,"y":375,"v":1},{"x":735,"y":375,"v":1},{"x":765,"y":375,"v":3},{"x":795,"y":375,"v":2},{"x":825,"y":375,"v":1},{"x":855,"y":375,"v":3},{"x":885,"y":375,"v":1},
{"x":15,"y":345,"v":6},{"x":45,"y":345,"v":9},{"x":75,"y":345,"v":6},{"x":105,"y":345,"v":8},{"x":135,"y":345,"v":6},{"x":165,"y":345,"v":8},{"x":195,"y":345,"v":10},{"x":225,"y":345,"v":10},{"x":255,"y":345,"v":7},{"x":285,"y":345,"v":5},{"x":315,"y":345,"v":10},{"x":345,"y":345,"v":6},{"x":375,"y":345,"v":6},{"x":405,"y":345,"v":8},{"x":435,"y":345,"v":3},{"x":465,"y":345,"v":3},{"x":495,"y":345,"v":2},{"x":525,"y":345,"v":3},{"x":555,"y":345,"v":6},{"x":585,"y":345,"v":2},{"x":615,"y":345,"v":2},{"x":645,"y":345,"v":3},{"x":675,"y":345,"v":3},{"x":705,"y":345,"v":1},{"x":795,"y":345,"v":2},{"x":825,"y":345,"v":1},{"x":915,"y":345,"v":1},{"x":945,"y":345,"v":1},{"x":1215,"y":345,"v":1},{"x":1275,"y":345,"v":1},
{"x":15,"y":315,"v":3},{"x":45,"y":315,"v":8},{"x":75,"y":315,"v":7},{"x":105,"y":315,"v":9},{"x":135,"y":315,"v":9},{"x":165,"y":315,"v":10},{"x":195,"y":315,"v":10},{"x":225,"y":315,"v":9},{"x":255,"y":315,"v":10},{"x":285,"y":315,"v":9},{"x":315,"y":315,"v":3},{"x":345,"y":315,"v":7},{"x":375,"y":315,"v":7},{"x":405,"y":315,"v":3},{"x":435,"y":315,"v":5},{"x":465,"y":315,"v":1},{"x":495,"y":315,"v":3},{"x":525,"y":315,"v":1},{"x":555,"y":315,"v":2},{"x":585,"y":315,"v":3},{"x":615,"y":315,"v":3},{"x":645,"y":315,"v":3},{"x":675,"y":315,"v":3},{"x":705,"y":315,"v":3},{"x":735,"y":315,"v":1},{"x":765,"y":315,"v":1},{"x":795,"y":315,"v":1},{"x":825,"y":315,"v":1},{"x":885,"y":315,"v":1},{"x":945,"y":315,"v":1},{"x":1095,"y":315,"v":3},{"x":1155,"y":315,"v":1},{"x":1275,"y":315,"v":1},
{"x":15,"y":285,"v":3},{"x":45,"y":285,"v":10},{"x":75,"y":285,"v":6},{"x":105,"y":285,"v":7},{"x":135,"y":285,"v":9},{"x":165,"y":285,"v":10},{"x":195,"y":285,"v":7},{"x":225,"y":285,"v":5},{"x":255,"y":285,"v":6},{"x":285,"y":285,"v":10},{"x":315,"y":285,"v":7},{"x":345,"y":285,"v":8},{"x":375,"y":285,"v":10},{"x":405,"y":285,"v":6},{"x":435,"y":285,"v":3},{"x":465,"y":285,"v":3},{"x":495,"y":285,"v":6},{"x":525,"y":285,"v":2},{"x":555,"y":285,"v":3},{"x":585,"y":285,"v":3},{"x":615,"y":285,"v":5},{"x":645,"y":285,"v":2},{"x":675,"y":285,"v":2},{"x":705,"y":285,"v":1},{"x":735,"y":285,"v":1},{"x":945,"y":285,"v":1},{"x":1095,"y":285,"v":1},{"x":1215,"y":285,"v":3},
{"x":15,"y":255,"v":6},{"x":45,"y":255,"v":5},{"x":75,"y":255,"v":6},{"x":105,"y":255,"v":8},{"x":135,"y":255,"v":7},{"x":165,"y":255,"v":7},{"x":195,"y":255,"v":10},{"x":225,"y":255,"v":7},{"x":255,"y":255,"v":9},{"x":285,"y":255,"v":8},{"x":315,"y":255,"v":10},{"x":345,"y":255,"v":2},{"x":375,"y":255,"v":5},{"x":405,"y":255,"v":9},{"x":435,"y":255,"v":1},{"x":465,"y":255,"v":3},{"x":495,"y":255,"v":3},{"x":525,"y":255,"v":9},{"x":555,"y":255,"v":6},{"x":585,"y":255,"v":3},{"x":615,"y":255,"v":3},{"x":645,"y":255,"v":1},{"x":705,"y":255,"v":2},{"x":735,"y":255,"v":1},{"x":765,"y":255,"v":2},{"x":795,"y":255,"v":1},{"x":885,"y":255,"v":1},{"x":945,"y":255,"v":2},{"x":1035,"y":255,"v":1},
{"x":15,"y":225,"v":3},{"x":45,"y":225,"v":2},{"x":75,"y":225,"v":7},{"x":105,"y":225,"v":5},{"x":135,"y":225,"v":2},{"x":165,"y":225,"v":9},{"x":195,"y":225,"v":7},{"x":225,"y":225,"v":8},{"x":255,"y":225,"v":8},{"x":285,"y":225,"v":10},{"x":315,"y":225,"v":6},{"x":345,"y":225,"v":5},{"x":375,"y":225,"v":6},{"x":405,"y":225,"v":6},{"x":435,"y":225,"v":3},{"x":465,"y":225,"v":6},{"x":495,"y":225,"v":3},{"x":525,"y":225,"v":2},{"x":555,"y":225,"v":9},{"x":585,"y":225,"v":3},{"x":615,"y":225,"v":3},{"x":645,"y":225,"v":3},{"x":675,"y":225,"v":3},{"x":735,"y":225,"v":1},{"x":825,"y":225,"v":2},{"x":855,"y":225,"v":1},{"x":885,"y":225,"v":1},{"x":915,"y":225,"v":1},{"x":945,"y":225,"v":1},{"x":1005,"y":225,"v":1},{"x":1095,"y":225,"v":1},{"x":1185,"y":225,"v":1},
{"x":15,"y":195,"v":2},{"x":45,"y":195,"v":2},{"x":75,"y":195,"v":5},{"x":105,"y":195,"v":5},{"x":135,"y":195,"v":6},{"x":165,"y":195,"v":7},{"x":195,"y":195,"v":6},{"x":225,"y":195,"v":3},{"x":255,"y":195,"v":3},{"x":285,"y":195,"v":6},{"x":315,"y":195,"v":6},{"x":345,"y":195,"v":6},{"x":375,"y":195,"v":2},{"x":405,"y":195,"v":7},{"x":435,"y":195,"v":2},{"x":465,"y":195,"v":3},{"x":495,"y":195,"v":5},{"x":555,"y":195,"v":3},{"x":585,"y":195,"v":2},{"x":615,"y":195,"v":2},{"x":645,"y":195,"v":3},{"x":705,"y":195,"v":2},{"x":735,"y":195,"v":2},{"x":765,"y":195,"v":1},{"x":795,"y":195,"v":1},{"x":945,"y":195,"v":1},{"x":1065,"y":195,"v":1},{"x":1095,"y":195,"v":1},{"x":1155,"y":195,"v":1},{"x":1275,"y":195,"v":1},
{"x":15,"y":165,"v":3},{"x":45,"y":165,"v":3},{"x":75,"y":165,"v":6},{"x":105,"y":165,"v":7},{"x":135,"y":165,"v":5},{"x":165,"y":165,"v":3},{"x":195,"y":165,"v":6},{"x":225,"y":165,"v":5},{"x":255,"y":165,"v":7},{"x":285,"y":165,"v":5},{"x":315,"y":165,"v":5},{"x":345,"y":165,"v":6},{"x":375,"y":165,"v":6},{"x":405,"y":165,"v":3},{"x":435,"y":165,"v":2},{"x":465,"y":165,"v":6},{"x":495,"y":165,"v":5},{"x":525,"y":165,"v":3},{"x":555,"y":165,"v":1},{"x":585,"y":165,"v":2},{"x":615,"y":165,"v":3},{"x":645,"y":165,"v":3},{"x":705,"y":165,"v":2},{"x":735,"y":165,"v":2},{"x":765,"y":165,"v":1},{"x":825,"y":165,"v":1},{"x":885,"y":165,"v":1},{"x":1215,"y":165,"v":1},{"x":1245,"y":165,"v":3},
{"x":15,"y":135,"v":2},{"x":45,"y":135,"v":2},{"x":75,"y":135,"v":3},{"x":105,"y":135,"v":6},{"x":135,"y":135,"v":1},{"x":165,"y":135,"v":6},{"x":195,"y":135,"v":5},{"x":225,"y":135,"v":6},{"x":255,"y":135,"v":5},{"x":285,"y":135,"v":6},{"x":315,"y":135,"v":6},{"x":345,"y":135,"v":3},{"x":375,"y":135,"v":3},{"x":405,"y":135,"v":3},{"x":435,"y":135,"v":2},{"x":465,"y":135,"v":3},{"x":495,"y":135,"v":6},{"x":525,"y":135,"v":5},{"x":555,"y":135,"v":3},{"x":585,"y":135,"v":2},{"x":615,"y":135,"v":5},{"x":645,"y":135,"v":3},{"x":675,"y":135,"v":5},{"x":705,"y":135,"v":3},{"x":735,"y":135,"v":3},{"x":765,"y":135,"v":2},{"x":825,"y":135,"v":1},{"x":855,"y":135,"v":2},{"x":885,"y":135,"v":1},{"x":1035,"y":135,"v":1},{"x":1065,"y":135,"v":1},{"x":1095,"y":135,"v":1},
{"x":45,"y":105,"v":3},{"x":75,"y":105,"v":3},{"x":105,"y":105,"v":2},{"x":135,"y":105,"v":2},{"x":165,"y":105,"v":5},{"x":195,"y":105,"v":5},{"x":225,"y":105,"v":3},{"x":255,"y":105,"v":1},{"x":285,"y":105,"v":6},{"x":315,"y":105,"v":3},{"x":345,"y":105,"v":2},{"x":375,"y":105,"v":2},{"x":405,"y":105,"v":7},{"x":435,"y":105,"v":2},{"x":465,"y":105,"v":6},{"x":495,"y":105,"v":3},{"x":525,"y":105,"v":3},{"x":555,"y":105,"v":3},{"x":585,"y":105,"v":2},{"x":645,"y":105,"v":2},{"x":675,"y":105,"v":3},{"x":705,"y":105,"v":1},{"x":735,"y":105,"v":2},{"x":765,"y":105,"v":3},{"x":795,"y":105,"v":3},{"x":855,"y":105,"v":3},{"x":885,"y":105,"v":3},{"x":915,"y":105,"v":1},{"x":945,"y":105,"v":1},{"x":975,"y":105,"v":1},{"x":1005,"y":105,"v":1},{"x":1035,"y":105,"v":1},{"x":1155,"y":105,"v":1},{"x":1245,"y":105,"v":1},
{"x":15,"y":75,"v":2},{"x":75,"y":75,"v":3},{"x":105,"y":75,"v":2},{"x":135,"y":75,"v":5},{"x":165,"y":75,"v":8},{"x":195,"y":75,"v":3},{"x":225,"y":75,"v":6},{"x":255,"y":75,"v":3},{"x":285,"y":75,"v":6},{"x":315,"y":75,"v":5},{"x":345,"y":75,"v":5},{"x":375,"y":75,"v":3},{"x":405,"y":75,"v":3},{"x":435,"y":75,"v":2},{"x":465,"y":75,"v":3},{"x":495,"y":75,"v":3},{"x":525,"y":75,"v":3},{"x":555,"y":75,"v":1},{"x":585,"y":75,"v":3},{"x":615,"y":75,"v":2},{"x":645,"y":75,"v":2},{"x":675,"y":75,"v":2},{"x":705,"y":75,"v":3},{"x":735,"y":75,"v":1},{"x":765,"y":75,"v":1},{"x":795,"y":75,"v":2},{"x":915,"y":75,"v":1},{"x":975,"y":75,"v":1},{"x":1005,"y":75,"v":1},{"x":1035,"y":75,"v":1},{"x":1095,"y":75,"v":1},{"x":1215,"y":75,"v":1},
{"x":75,"y":45,"v":1},{"x":105,"y":45,"v":1},{"x":165,"y":45,"v":6},{"x":195,"y":45,"v":3},{"x":225,"y":45,"v":6},{"x":255,"y":45,"v":9},{"x":285,"y":45,"v":5},{"x":315,"y":45,"v":2},{"x":345,"y":45,"v":5},{"x":375,"y":45,"v":3},{"x":405,"y":45,"v":6},{"x":435,"y":45,"v":5},{"x":465,"y":45,"v":2},{"x":495,"y":45,"v":8},{"x":525,"y":45,"v":3},{"x":555,"y":45,"v":2},{"x":585,"y":45,"v":6},{"x":615,"y":45,"v":6},{"x":645,"y":45,"v":6},{"x":675,"y":45,"v":1},{"x":705,"y":45,"v":3},{"x":735,"y":45,"v":1},{"x":765,"y":45,"v":2},{"x":825,"y":45,"v":1},{"x":885,"y":45,"v":3},{"x":915,"y":45,"v":3},{"x":945,"y":45,"v":3},{"x":1005,"y":45,"v":1},{"x":1065,"y":45,"v":1},{"x":1095,"y":45,"v":1},{"x":1155,"y":45,"v":1},{"x":1215,"y":45,"v":1},
{"x":105,"y":15,"v":3},{"x":135,"y":15,"v":1},{"x":165,"y":15,"v":1},{"x":195,"y":15,"v":1},{"x":225,"y":15,"v":5},{"x":255,"y":15,"v":2},{"x":285,"y":15,"v":2},{"x":315,"y":15,"v":2},{"x":345,"y":15,"v":3},{"x":375,"y":15,"v":3},{"x":405,"y":15,"v":2},{"x":435,"y":15,"v":6},{"x":465,"y":15,"v":3},{"x":495,"y":15,"v":2},{"x":525,"y":15,"v":2},{"x":555,"y":15,"v":3},{"x":585,"y":15,"v":2},{"x":615,"y":15,"v":3},{"x":675,"y":15,"v":5},{"x":735,"y":15,"v":1},{"x":765,"y":15,"v":1},{"x":795,"y":15,"v":1},{"x":855,"y":15,"v":1},{"x":885,"y":15,"v":1},{"x":945,"y":15,"v":3},{"x":1065,"y":15,"v":3},{"x":1125,"y":15,"v":1},{"x":1155,"y":15,"v":1}
]},"encoding":{"x":{"field":"x","type":"quantitative","scale":{"domain":[0,1274],"nice":false,"zero":false}},"y":{"field":"y","type":"quantitative","scale":{"domain":[0,1500],"nice":false,"zero":false}},"color":{"field":"v","type":"quantitative","legend":null,"scale":{"domain":[1,2,3,5,6,7,8,9,10,11,12,13,14,15,16],"range":["#7f00ff","#5500ff","#3300ff","#0080ff","#00bfff","#00ffff","#00ffc0","#00ff80","#00ff00","#60ff00","#c8ff00","#ffff00","#ffa000","#ff6600","#ff0000"]}}},"resolve":{"axis":{"x":"independent","y":"independent"}},"layer":[{"mark":{"type":"rect","width":15.85,"height":8.55,"clip":true},"encoding":{"x":{"field":"x","type":"quantitative","axis":{"orient":"bottom","zindex":1,"values":[0,200,400,600,800,1000,1200],"tickSize":-13,"labelPadding":19,"domain":true}},"y":{"field":"y","type":"quantitative","axis":{"orient":"left","zindex":1,"values":[0,200,400,600,800,1000,1200,1400],"tickSize":-24,"labelPadding":30,"domain":true}}}},{"mark":{"type":"rect","width":15.85,"height":8.55,"opacity":0,"clip":true},"encoding":{"x":{"field":"x","type":"quantitative","axis":{"orient":"bottom","zindex":1,"values":[50,100,150,250,300,350,450,500,550,650,700,750,850,900,950,1050,1100,1150,1250],"tickSize":-6.5,"labels":false,"domain":false}},"y":{"field":"y","type":"quantitative","axis":{"orient":"left","zindex":1,"values":[50,100,150,250,300,350,450,500,550,650,700,750,850,900,950,1050,1100,1150,1250,1300,1350,1450],"tickSize":-12.5,"labels":false,"domain":false}}}}]}
